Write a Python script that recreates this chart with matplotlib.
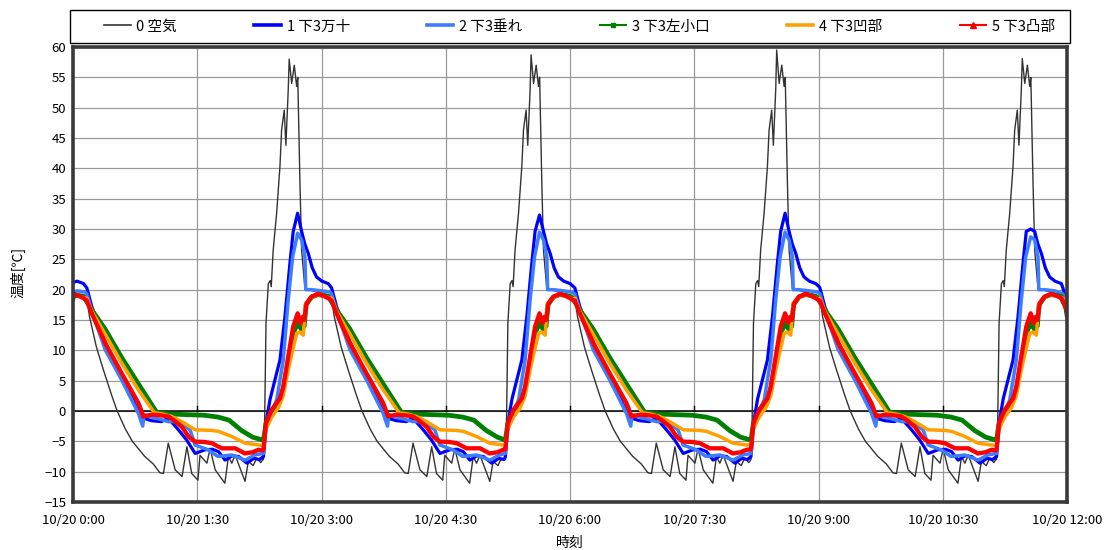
import numpy as np
import matplotlib
matplotlib.use("Agg")
import matplotlib.pyplot as plt
from matplotlib.lines import Line2D
from matplotlib.patches import Rectangle

plt.rcParams['font.family'] = ['Noto Sans CJK JP', 'DejaVu Sans']

# ---------------- data ----------------
series_names = ["0 空気", "1 下3万十", "2 下3垂れ", "3 下3左小口", "4 下3凹部", "5 下3凸部"]
x_tick_minutes = [0, 90, 180, 270, 360, 450, 540, 630, 720]
x_tick_labels = ["10/20 0:00", "10/20 1:30", "10/20 3:00", "10/20 4:30", "10/20 6:00",
                 "10/20 7:30", "10/20 9:00", "10/20 10:30", "10/20 12:00"]

# cycle timing (minutes after 0:00): start of heating (rise) and start of cooling (descent)
rise_starts = [-39.0, 138.3, 313.5, 491.4, 669.3]
descent_starts = [10.0, 187.3, 363.5, 541.0, 717.0]

# values at 0:00
start_values = [18.6, 21.2, 19.6, 18.6, 19.3, 19.0]

# per-cycle peak values (cycles 1..4)
air_peaks = [58.0, 58.7, 59.5, 58.1]
s1_peaks = [32.6, 32.3, 32.6, 30.0]
s2_peaks = [29.3, 29.5, 29.5, 28.7]

# ---- 0 空気 (air)
air_fall_t = [0, 2, 7, 12, 18, 22, 28, 33, 42, 48, 53, 55.5, 59, 64, 69, 72.5, 76, 80.5, 82, 87,
              89.3, 93, 100, 102.6, 105, 107.5, 114.6, 117, 120.5, 123, 126, 127.5]
air_fall_v = [18.5, 15.5, 10.5, 6.8, 2.6, 0.0, -3.0, -5.0, -7.5, -8.7, -10.2, -10.3, -5.3, -9.7,
              -10.8, -5.9, -10.3, -11.4, -7.3, -8.6, -6.2, -9.7, -11.9, -7.5, -8.6, -7.3, -11.6,
              -8.3, -9.0, -7.8, -8.5, -8.0]
air_rise_t = [-0.3, 0.5, 1.5, 3.2, 4.5, 5.3, 6.7, 9.2, 11.6, 12.8, 14.7, 15.9, 17.6, 18.3, 20.1,
              22, 23.7, 24.5, 26.1, 27.3, 29.7, 37, 46.6, 49]
air_rise_v = [-8.0, -2.0, 14.5, 21.0, 21.5, 20.5, 26.5, 32.6, 40.3, 46.3, 49.6, 43.8, 52.9, 57.9,
              54.0, 57.0, 53.5, 55.0, 37.5, 26.5, 20.2, 19.7, 19.1, 18.6]

# ---- 1 下3万十
s1_fall_t = [0, 3.6, 13.3, 25.3, 37.4, 41, 47, 54, 59, 66.4, 72.4, 78.5, 85.5, 91, 95.4, 100.2,
             105, 110, 116, 121, 125, 127.5]
s1_fall_v = [20.3, 17.2, 11.4, 5.7, -0.1, -1.2, -1.6, -1.75, -1.2, -3.1, -4.8, -7.0, -6.4, -6.3,
             -6.7, -8.1, -7.4, -7.5, -8.6, -7.8, -8.0, -7.6]
s1_rise_t = [-0.3, 1.5, 4.5, 6.7, 11.6, 15.2, 18.8, 21.2, 24.4, 27.3, 29.5, 32.1, 35, 38.1, 42,
             46.6, 49]
s1_rise_v = [-7.5, -2.0, 2.0, 4.0, 8.4, 15.5, 24.3, 29.6, 32.6, 29.6, 27.6, 26.0, 23.6, 22.1,
             21.4, 21.0, 20.5]

# ---- 2 下3垂れ
s2_fall_t = [0, 3.6, 13.3, 25.3, 37.4, 40.5, 41.5, 47, 59, 64, 71, 74.8, 78.4, 88, 95, 105,
             114.7, 121.5, 127.5]
s2_fall_v = [19.3, 16.5, 10.1, 5.1, -0.4, -2.5, -0.6, -1.0, -1.75, -1.75, -2.5, -3.1, -5.6, -6.4,
             -7.5, -7.25, -8.1, -7.25, -7.0]
s2_rise_t = [-0.3, 1.5, 5, 9.2, 14, 17.6, 20.8, 24.4, 27.3, 29.7, 30.3, 34.4, 42, 47.8, 49]
s2_rise_v = [-7.0, -2.0, -0.5, 1.8, 8.4, 18.3, 25.4, 29.3, 28.2, 25.4, 20.0, 20.0, 19.8, 19.6, 19.4]

# ---- 3 下3左小口
s3_fall_t = [0, 4, 13, 25, 37, 50.5, 60, 72, 85, 95, 103, 112, 120, 127.5]
s3_fall_v = [18.0, 16.5, 13.6, 8.9, 4.6, -0.2, -0.5, -0.6, -0.7, -1.0, -1.5, -3.2, -4.3, -4.8]
s3_rise_t = [-0.3, 1.5, 5.6, 11.7, 14, 17.6, 21.2, 24.4, 27, 29.2, 30.5, 34.5, 39.3, 46.6, 49]
s3_rise_v = [-4.8, -2.0, 0.0, 1.8, 3.5, 8.2, 12.8, 14.5, 13.5, 14.0, 17.5, 18.8, 19.2, 18.9, 18.5]

# ---- 4 下3凹部
s4_fall_t = [0, 4, 13, 25, 37, 49, 55, 61.5, 68.8, 78.5, 90, 95.4, 105, 114.5, 124.3, 127.5]
s4_fall_v = [18.6, 16.3, 12.8, 8.0, 3.6, -0.3, -0.5, -0.9, -1.75, -3.1, -3.2, -3.35, -4.2, -5.3,
             -5.6, -5.7]
s4_rise_t = [-0.3, 1.5, 5.6, 10.4, 14, 17.6, 23.7, 26, 28.5, 30.2, 34.5, 39.3, 46.6, 49]
s4_rise_v = [-5.5, -3.0, -1.0, 0.5, 2.5, 6.8, 12.8, 13.0, 12.5, 17.7, 18.7, 19.2, 18.7, 18.4]

# ---- 5 下3凸部
s5_fall_t = [0, 3.6, 13.3, 25.3, 37.4, 41, 47, 53, 59, 63, 68.8, 74, 78.5, 85, 90.5, 97.8, 107.5,
             114.5, 120, 124.3, 127.5]
s5_fall_v = [18.2, 16.1, 11.2, 6.2, 1.3, -0.9, -0.6, -0.7, -0.9, -1.5, -2.6, -4.3, -5.05, -5.1,
             -5.3, -6.15, -6.15, -7.0, -6.8, -6.4, -6.5]
s5_rise_t = [-0.3, 1.5, 5.6, 11.7, 14, 17.6, 21.2, 24.4, 26.7, 28, 29.2, 30.9, 34.5, 39.3, 43,
             46.6, 49]
s5_rise_v = [-6.3, -2.0, 0.2, 2.1, 4.0, 9.0, 13.9, 16.1, 14.5, 15.5, 15.0, 17.75, 18.85, 19.3,
             19.0, 18.6, 18.2]

colors = ["#333333", "#0000FF", "#3D7DFF", "#008000", "#FFA000", "#FF0000"]
widths = [1.0, 2.3, 2.5, 3.4, 2.5, 3.1]


def build(idx, fall_t, fall_v, rise_t, rise_v, peaks=None):
    ts = [0.0]
    vs = [start_values[idx]]
    n = len(rise_starts)
    for k in range(n):
        R = rise_starts[k]
        D = descent_starts[k]
        rv = list(rise_v)
        if peaks is not None and k >= 1:
            rv[int(np.argmax(rv))] = peaks[k - 1]
        for r, v in zip(rise_t, rv):
            t = R + r
            if 0 < t < D:
                ts.append(t)
                vs.append(v)
        Rn = rise_starts[k + 1] if k + 1 < n else 1e9
        for f, v in zip(fall_t, fall_v):
            t = D + f
            if t < Rn - 0.4:
                ts.append(t)
                vs.append(v)
    return np.array(ts), np.array(vs)


all_series = [
    build(0, air_fall_t, air_fall_v, air_rise_t, air_rise_v, air_peaks),
    build(1, s1_fall_t, s1_fall_v, s1_rise_t, s1_rise_v, s1_peaks),
    build(2, s2_fall_t, s2_fall_v, s2_rise_t, s2_rise_v, s2_peaks),
    build(3, s3_fall_t, s3_fall_v, s3_rise_t, s3_rise_v),
    build(4, s4_fall_t, s4_fall_v, s4_rise_t, s4_rise_v),
    build(5, s5_fall_t, s5_fall_v, s5_rise_t, s5_rise_v),
]

# ---------------- figure ----------------
fig = plt.figure(figsize=(11.13, 5.5), dpi=100)
ax = fig.add_axes([73 / 1113, 1 - 502 / 550, (1067 - 73) / 1113, (502 - 47) / 550])

ax.set_xlim(0, 720)
ax.set_ylim(-15, 60)
ax.set_yticks(np.arange(-15, 61, 5))
ax.set_xticks(x_tick_minutes)
ax.set_xticklabels(x_tick_labels)
ax.grid(True, color="#9a9a9a", linewidth=0.9)
ax.set_axisbelow(True)
ax.axhline(0, color="black", linewidth=1.1, zorder=1.5)
for xt in x_tick_minutes[1:-1]:
    ax.plot([xt, xt], [0, 0.8], color="black", linewidth=1.0, zorder=1.5)

for (ts, vs), c, lw in zip(all_series, colors, widths):
    ax.plot(ts, vs, color=c, linewidth=lw, solid_joinstyle="round", zorder=2)

for sp in ax.spines.values():
    sp.set_linewidth(2.6)
    sp.set_color("#3a3a3a")

ax.tick_params(axis="both", length=0, labelsize=9.5, colors="black")
ax.tick_params(axis="x", pad=9)
ax.tick_params(axis="y", pad=5)

fig.text(18 / 1113, 1 - 272 / 550, "温度[℃]", rotation=90, ha="center", va="center", fontsize=10)
fig.text(570 / 1113, 1 - 543 / 550, "時刻", ha="center", va="center", fontsize=10)

# legend frame
fig.patches.append(Rectangle((70 / 1113, 1 - 43 / 550), 1000 / 1113, 33 / 550,
                             transform=fig.transFigure, facecolor="white",
                             edgecolor="black", linewidth=1.0, zorder=0))
handles = [
    Line2D([], [], color=colors[0], linewidth=1.2),
    Line2D([], [], color=colors[1], linewidth=2.6),
    Line2D([], [], color=colors[2], linewidth=2.6),
    Line2D([], [], color=colors[3], linewidth=1.5, marker="s", markersize=3.5),
    Line2D([], [], color=colors[4], linewidth=2.6),
    Line2D([], [], color=colors[5], linewidth=1.5, marker="^", markersize=4),
]
leg = fig.legend(handles, series_names, loc="center", ncol=6,
                 bbox_to_anchor=(97 / 1113, 1 - 43 / 550, 965 / 1113, 33 / 550),
                 mode="expand", fontsize=10.5, frameon=False,
                 handlelength=1.8, handletextpad=0.4,
                 borderaxespad=0.0, borderpad=0.5)

fig.savefig("out.png", dpi=100)
